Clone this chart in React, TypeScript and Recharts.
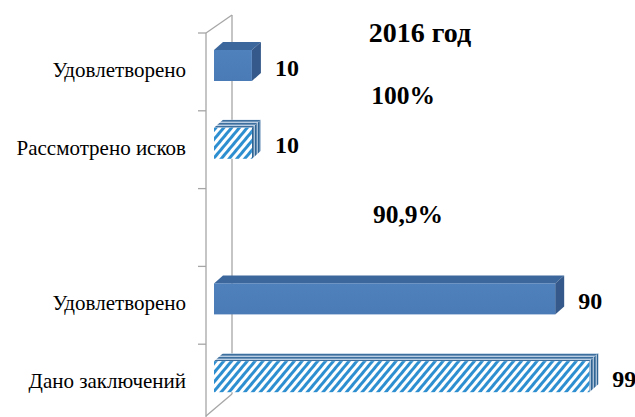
import React from 'react';
import { BarChart, Bar, XAxis, YAxis, LabelList } from 'recharts';

const categories = ['Удовлетворено', 'Рассмотрено исков', '', 'Удовлетворено', 'Дано заключений'];
const values: (number | null)[] = [10, 10, null, 90, 99];
const hatched = [false, true, false, false, true];
const titleText = '2016 год';
const percentLabels = ['100%', '90,9%'];

const data = categories.map((c, i) => ({ id: i, name: c, value: values[i], hatched: hatched[i] }));

const W = 635;
const H = 422;
const M = { top: 33, right: 4, bottom: 0, left: 0 };
const YW = 206;
const PLOT_LEFT = M.left + YW;
const PLOT_TOP = M.top;
const BAND = (H - M.top - M.bottom) / categories.length;
const DEPTH_X = 26;
const DEPTH_Y = -18;
const SHIFT = 6;
const SERIF = 'Liberation Serif';
const GRAY = '#A6A6A6';

const Bar3D = (props: any) => {
  const { x, y, width, height, payload } = props;
  if (payload.value == null || !width || width <= 0) return null;
  const yy = y - SHIFT;
  const dx = 9;
  const dy = -8;
  const h = payload.hatched;
  const front = h ? 'url(#hatchFront)' : 'url(#solidFront)';
  const top = h ? 'url(#hatchTop)' : '#3C679C';
  const side = h ? 'url(#hatchSide)' : '#34598A';
  return (
    <g>
      <polygon
        points={`${x},${yy} ${x + dx},${yy + dy} ${x + width + dx},${yy + dy} ${x + width},${yy}`}
        fill={top}
      />
      <polygon
        points={`${x + width},${yy} ${x + width + dx},${yy + dy} ${x + width + dx},${yy + height + dy} ${x + width},${yy + height}`}
        fill={side}
      />
      <rect x={x} y={yy} width={width} height={height} fill={front} />
    </g>
  );
};

const ValueLabel = (props: any) => {
  const { x, y, width, height, value } = props;
  if (value == null) return null;
  return (
    <text
      x={x + width + 23}
      y={y + height / 2 - 4}
      dominantBaseline="central"
      textAnchor="start"
      style={{ fontFamily: SERIF, fontWeight: 'bold', fontSize: 24 }}
      fill="#000"
    >
      {value}
    </text>
  );
};

const CatTick = (props: any) => {
  const { y, payload } = props;
  const label = categories[payload.value];
  if (!label) return null;
  return (
    <text
      x={PLOT_LEFT - 20}
      y={y - 2}
      textAnchor="end"
      dominantBaseline="central"
      style={{ fontFamily: SERIF, fontSize: 21 }}
      fill="#000"
    >
      {label}
    </text>
  );
};

export default function App() {
  const ticks = Array.from({ length: categories.length + 1 }, (_, i) => PLOT_TOP + i * BAND);
  const frontBottom = H - 6;
  const bold = (size: number) => ({ fontFamily: SERIF, fontWeight: 'bold' as const, fontSize: size });
  return (
    <div style={{ position: 'absolute', left: 0, top: 0, width: W, height: 417, overflow: 'hidden', background: '#fff' }}>
      <svg width={W} height={H} style={{ position: 'absolute', left: 0, top: 0 }}>
        <defs>
          <linearGradient id="solidFront" x1="0" y1="0" x2="0" y2="1">
            <stop offset="0" stopColor="#4F81BD" />
            <stop offset="1" stopColor="#4A7BB7" />
          </linearGradient>
          <pattern id="hatchFront" patternUnits="userSpaceOnUse" width="6" height="6" patternTransform="rotate(40)">
            <rect width="6" height="6" fill="#FFFFFF" />
            <rect width="3" height="6" fill="#2E8FD0" />
          </pattern>
          <pattern id="hatchTop" patternUnits="userSpaceOnUse" width="4" height="3">
            <rect width="4" height="3" fill="#B9CEE2" />
            <rect width="4" height="1.6" fill="#3D6F9E" />
          </pattern>
          <pattern id="hatchSide" patternUnits="userSpaceOnUse" width="3" height="4">
            <rect width="3" height="4" fill="#A9BFD6" />
            <rect width="1.6" height="4" fill="#2F6595" />
          </pattern>
        </defs>
        <line x1={PLOT_LEFT} y1={PLOT_TOP} x2={PLOT_LEFT} y2={H} stroke={GRAY} strokeWidth={1.3} />
        <line x1={PLOT_LEFT} y1={PLOT_TOP} x2={PLOT_LEFT + DEPTH_X} y2={PLOT_TOP + DEPTH_Y} stroke={GRAY} strokeWidth={1.3} />
        <line x1={PLOT_LEFT + DEPTH_X} y1={PLOT_TOP + DEPTH_Y} x2={PLOT_LEFT + DEPTH_X} y2={frontBottom + DEPTH_Y - 4} stroke={GRAY} strokeWidth={1.3} />
        <line x1={PLOT_LEFT + DEPTH_X} y1={frontBottom + DEPTH_Y - 4} x2={PLOT_LEFT} y2={frontBottom} stroke={GRAY} strokeWidth={1.3} />
        {ticks.map((t, i) => (
          <line key={i} x1={PLOT_LEFT - 8} y1={t} x2={PLOT_LEFT} y2={t} stroke={GRAY} strokeWidth={1.3} />
        ))}
      </svg>
      <div style={{ position: 'absolute', left: 0, top: 0 }}>
        <BarChart width={W} height={H} data={data} layout="vertical" margin={M} barCategoryGap={0}>
          <XAxis type="number" dataKey="value" domain={[0, 110]} hide padding={{ left: 8, right: 0 }} />
          <YAxis
            type="category"
            dataKey="id"
            width={YW}
            axisLine={false}
            tickLine={false}
            tick={<CatTick />}
            interval={0}
          />
          <Bar dataKey="value" barSize={31} shape={<Bar3D />} isAnimationActive={false}>
            <LabelList dataKey="value" content={<ValueLabel />} />
          </Bar>
        </BarChart>
      </div>
      <svg width={W} height={H} style={{ position: 'absolute', left: 0, top: 0, pointerEvents: 'none' }}>
        <text x={420} y={32} textAnchor="middle" dominantBaseline="central" style={bold(28)} fill="#000">
          {titleText}
        </text>
        <text x={403} y={95} textAnchor="middle" dominantBaseline="central" style={bold(25.5)} fill="#000">
          {percentLabels[0]}
        </text>
        <text x={408} y={214} textAnchor="middle" dominantBaseline="central" style={bold(25.5)} fill="#000">
          {percentLabels[1]}
        </text>
      </svg>
    </div>
  );
}
